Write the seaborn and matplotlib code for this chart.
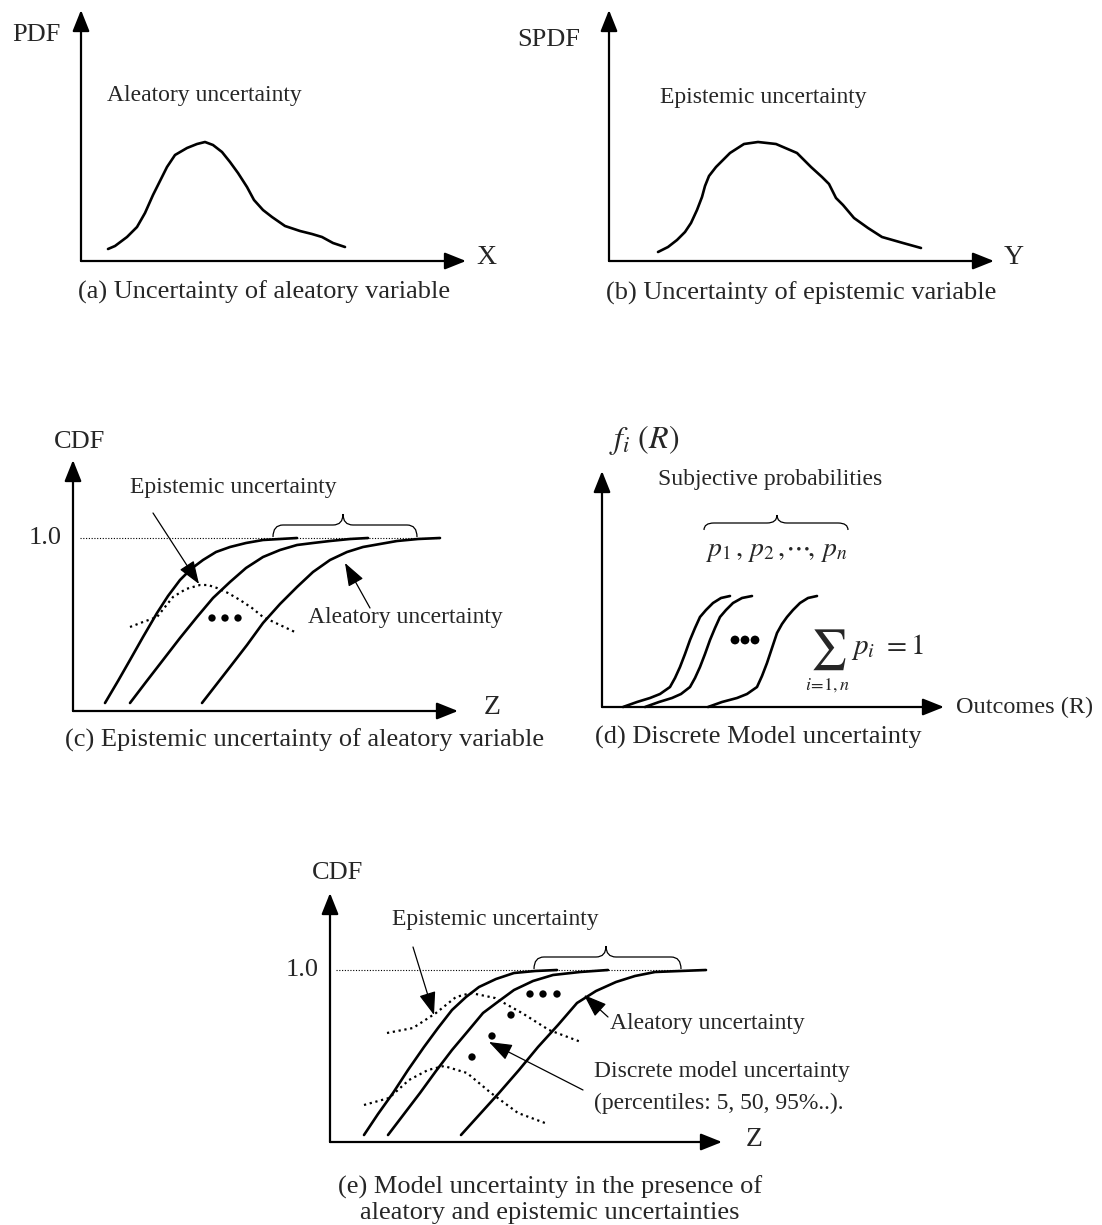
import numpy as np
import pandas as pd
import seaborn as sns
import matplotlib.pyplot as plt
from matplotlib.path import Path
from matplotlib.patches import PathPatch

sns.set_theme(style="white")
plt.rcParams['font.family'] = ['Liberation Serif', 'DejaVu Serif']
plt.rcParams['mathtext.fontset'] = 'stix'

# ---- curve points (pixel coords, y down) ----
# (a) aleatory PDF
a_x = [108, 115, 127, 137, 145, 153, 162, 167, 175, 187, 197, 205, 213, 222, 230, 238,
       247, 254, 263, 272, 285, 300, 312, 322, 333, 345]
a_y = [249, 246, 237, 227, 213, 195, 177, 167, 155, 148, 144, 142, 145, 152, 162, 173,
       187, 200, 210, 217, 226, 231, 234, 237, 243, 247]
# (b) epistemic SPDF
b_x = [658, 668, 677, 685, 691, 697, 702, 705, 709, 716, 730, 744, 758, 776, 797, 811,
       822, 829, 836, 843, 854, 868, 882, 903, 921]
b_y = [252, 247, 240, 232, 223, 210, 197, 186, 176, 167, 153, 144, 142, 144, 153, 167,
       177, 184, 198, 205, 218, 228, 237, 243, 248]
# (c) three CDFs + epistemic density (dotted)
c1_x = [105, 118, 130, 143, 157, 168, 180, 191, 203, 216, 230, 246, 263, 280, 297]
c1_y = [703, 681, 660, 637, 613, 596, 580, 569, 560, 552, 547, 543, 540, 539, 538]
c2_x = [130, 146, 163, 180, 197, 213, 230, 246, 263, 280, 297, 313, 330, 350, 368]
c2_y = [703, 682, 660, 638, 617, 598, 582, 568, 557, 550, 545, 543, 541, 539, 538]
c3_x = [202, 216, 230, 247, 263, 280, 297, 313, 330, 347, 363, 380, 397, 418, 440]
c3_y = [703, 685, 667, 645, 623, 604, 587, 572, 560, 552, 547, 544, 541, 539, 538]
cd_x = [130, 143, 157, 165, 173, 186, 200, 208, 217, 228, 240, 252, 263, 280, 297]
cd_y = [627, 622, 617, 607, 597, 589, 585, 585, 588, 593, 600, 608, 617, 625, 633]
c_dots_x = [212, 225, 238]
c_dots_y = [618, 618, 618]
# (d) discrete model CDFs
d1_x = [623, 637, 650, 660, 670, 675, 680, 685, 690, 695, 700, 706, 713, 721, 730]
d1_y = [707, 702, 698, 694, 687, 678, 667, 654, 640, 628, 617, 610, 603, 598, 596]
d2_x = [645, 659, 672, 681, 690, 695, 700, 705, 710, 715, 720, 726, 733, 742, 752]
d2_y = [707, 702, 698, 694, 687, 678, 667, 654, 640, 628, 617, 610, 603, 598, 596]
d3_x = [708, 722, 737, 747, 757, 762, 767, 772, 777, 782, 787, 793, 800, 808, 817]
d3_y = [707, 702, 698, 694, 687, 676, 663, 648, 633, 624, 617, 610, 603, 598, 596]
d_dots_x = [735, 745, 755]
d_dots_y = [640, 640, 640]
# (e) CDFs, two epistemic densities, percentile dots
e1_x = [364, 378, 393, 408, 424, 438, 452, 466, 479, 496, 514, 535, 557]
e1_y = [1135, 1114, 1093, 1070, 1047, 1028, 1010, 997, 987, 979, 973, 971, 970]
e2_x = [388, 404, 420, 436, 452, 468, 483, 499, 514, 533, 553, 580, 608]
e2_y = [1135, 1114, 1093, 1071, 1050, 1031, 1013, 1001, 990, 981, 975, 972, 970]
e3_x = [461, 480, 499, 519, 538, 558, 577, 596, 616, 635, 655, 680, 706]
e3_y = [1135, 1114, 1093, 1070, 1047, 1025, 1003, 991, 982, 976, 972, 971, 970]
eu_x = [387, 413, 436, 456, 471, 495, 522, 549, 581]
eu_y = [1033, 1028, 1013, 997, 993, 998, 1013, 1030, 1042]
el_x = [364, 389, 409, 428, 444, 467, 491, 518, 545]
el_y = [1105, 1098, 1080, 1070, 1066, 1073, 1093, 1113, 1123]
e_dots_x = [530, 543, 557, 511, 492, 472]
e_dots_y = [994, 994, 994, 1015, 1036, 1057]

fig = plt.figure(figsize=(11.02, 12.25), dpi=100)
ax = fig.add_axes([0, 0, 1, 1])
ax.set_xlim(0, 1102)
ax.set_ylim(1225, 0)
ax.axis('off')

FS_AX = 19     # axis names
FS_LET = 20    # X, Y, Z
FS_NOTE = 17   # annotations
FS_CAP = 19    # captions


def axis_arrow(x0, y0, x1, y1):
    ax.annotate('', xy=(x1, y1), xytext=(x0, y0),
                arrowprops=dict(arrowstyle='-|>,head_length=1.0,head_width=0.4',
                                color='black', lw=1.6, shrinkA=0, shrinkB=0,
                                mutation_scale=13))


def pointer(x0, y0, x1, y1):
    ax.annotate('', xy=(x1, y1), xytext=(x0, y0),
                arrowprops=dict(arrowstyle='-|>,head_length=1.1,head_width=0.4',
                                color='black', lw=0.9, shrinkA=0, shrinkB=0,
                                mutation_scale=13))


def brace(x0, x1, xc, yb, ym, yt, r=10):
    verts = [(x0, yb), (x0, ym), (x0 + r, ym), (xc - r, ym), (xc, ym), (xc, yt),
             (xc, yt), (xc, ym), (xc + r, ym), (x1 - r, ym), (x1, ym), (x1, yb)]
    codes = [Path.MOVETO, Path.CURVE3, Path.CURVE3, Path.LINETO, Path.CURVE3, Path.CURVE3,
             Path.MOVETO, Path.CURVE3, Path.CURVE3, Path.LINETO, Path.CURVE3, Path.CURVE3]
    ax.add_patch(PathPatch(Path(verts, codes), fill=False, lw=0.9, color='black'))


def curve(xs, ys, dotted=False):
    df = pd.DataFrame({'x': xs, 'y': ys})
    sns.lineplot(data=df, x='x', y='y', sort=False, estimator=None, ax=ax,
                 color='black', lw=1.6 if dotted else 1.9,
                 linestyle=':' if dotted else '-')


def dots(xs, ys, s):
    sns.scatterplot(x=xs, y=ys, s=s, color='black', edgecolor='none', ax=ax)


# ---- (a) ----
axis_arrow(81, 261, 81, 10)
axis_arrow(81, 261, 466, 261)
ax.text(36, 35, 'PDF', fontsize=FS_AX, ha='center', va='center')
ax.text(486, 258, 'X', fontsize=FS_LET, ha='center', va='center')
ax.text(107, 96, 'Aleatory uncertainty', fontsize=FS_NOTE, ha='left', va='center')
curve(a_x, a_y)
ax.text(264, 292, '(a) Uncertainty of aleatory variable', fontsize=FS_CAP,
        ha='center', va='center')

# ---- (b) ----
axis_arrow(609, 261, 609, 10)
axis_arrow(609, 261, 994, 261)
ax.text(580, 40, 'SPDF', fontsize=FS_AX, ha='right', va='center')
ax.text(1014, 258, 'Y', fontsize=FS_LET, ha='center', va='center')
ax.text(660, 97, 'Epistemic uncertainty', fontsize=FS_NOTE, ha='left', va='center')
curve(b_x, b_y)
ax.text(801, 293, '(b) Uncertainty of epistemic variable', fontsize=FS_CAP,
        ha='center', va='center')

# ---- (c) ----
axis_arrow(73, 711, 73, 460)
axis_arrow(73, 711, 458, 711)
ax.text(80, 442, 'CDF', fontsize=FS_AX, ha='center', va='center')
ax.text(45, 538, '1.0', fontsize=FS_AX, ha='center', va='center')
ax.text(492, 708, 'Z', fontsize=FS_LET, ha='center', va='center')
ax.plot([80, 440], [538, 538], color='black', lw=0.8, linestyle=(0, (1, 1.5)))
for xs, ys in [(c1_x, c1_y), (c2_x, c2_y), (c3_x, c3_y)]:
    curve(xs, ys)
curve(cd_x, cd_y, dotted=True)
dots(c_dots_x, c_dots_y, 28)
brace(273, 417, 343, 537, 525, 514)
ax.text(130, 488, 'Epistemic uncertainty', fontsize=FS_NOTE, ha='left', va='center')
pointer(153, 513, 199, 584)
ax.text(308, 617, 'Aleatory uncertainty', fontsize=FS_NOTE, ha='left', va='center')
pointer(370, 608, 345, 563)
ax.text(305, 740, '(c) Epistemic uncertainty of aleatory variable', fontsize=FS_CAP,
        ha='center', va='center')

# ---- (d) ----
axis_arrow(602, 707, 602, 471)
axis_arrow(602, 707, 944, 707)
ax.text(609, 440, r'$f_i\ (R)$', fontsize=FS_AX + 4, ha='left', va='center')
ax.text(956, 707, 'Outcomes (R)', fontsize=FS_NOTE + 0.5, ha='left', va='center')
ax.text(658, 480, 'Subjective probabilities', fontsize=FS_NOTE, ha='left', va='center')
brace(704, 848, 777, 530, 523, 515)
ax.text(705, 552, r'$p_1\,,\,p_2\,,\!\cdots\!,\,p_n$', fontsize=FS_AX + 1,
        ha='left', va='center')
for xs, ys in [(d1_x, d1_y), (d2_x, d2_y), (d3_x, d3_y)]:
    curve(xs, ys)
dots(d_dots_x, d_dots_y, 40)
ax.text(828, 650, r'$\sum$', fontsize=29, ha='center', va='center')
ax.text(851, 647, r'$p_i\ =1$', fontsize=FS_AX + 2, ha='left', va='center')
ax.text(827, 685, r'$i\!=\!1,n$', fontsize=13, ha='center', va='center')
ax.text(595, 737, '(d) Discrete Model uncertainty', fontsize=FS_CAP, ha='left', va='center')

# ---- (e) ----
axis_arrow(330, 1142, 330, 893)
axis_arrow(330, 1142, 722, 1142)
ax.text(338, 873, 'CDF', fontsize=FS_AX, ha='center', va='center')
ax.text(302, 970, '1.0', fontsize=FS_AX, ha='center', va='center')
ax.text(754, 1140, 'Z', fontsize=FS_LET, ha='center', va='center')
ax.plot([336, 706], [970, 970], color='black', lw=0.8, linestyle=(0, (1, 1.5)))
for xs, ys in [(e1_x, e1_y), (e2_x, e2_y), (e3_x, e3_y)]:
    curve(xs, ys)
curve(eu_x, eu_y, dotted=True)
curve(el_x, el_y, dotted=True)
dots(e_dots_x, e_dots_y, 28)
brace(534, 681, 606, 969, 957, 946)
ax.text(392, 920, 'Epistemic uncertainty', fontsize=FS_NOTE, ha='left', va='center')
pointer(413, 947, 434, 1015)
ax.text(610, 1023, 'Aleatory uncertainty', fontsize=FS_NOTE, ha='left', va='center')
pointer(608, 1017, 584, 995)
ax.text(594, 1072, 'Discrete model uncertainty', fontsize=FS_NOTE, ha='left', va='center')
ax.text(594, 1103, '(percentiles: 5, 50, 95%..).', fontsize=FS_NOTE, ha='left', va='center')
pointer(583, 1090, 489, 1042)
ax.text(550, 1187, '(e) Model uncertainty in the presence of', fontsize=FS_CAP,
        ha='center', va='center')
ax.text(550, 1213, 'aleatory and epistemic uncertainties', fontsize=FS_CAP,
        ha='center', va='center')

fig.savefig('out.png', dpi=100)
